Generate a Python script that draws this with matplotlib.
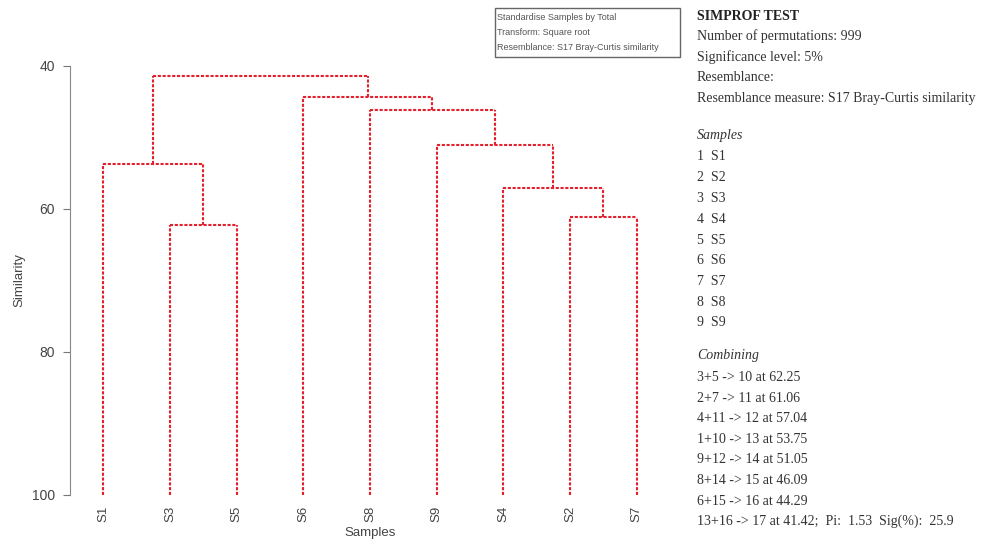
import matplotlib.pyplot as plt
import matplotlib.patches as patches

# leaf order along the x axis (sample numbers)
leaf_order = [1, 3, 5, 6, 8, 9, 4, 2, 7]
leaf_names = ["S1", "S3", "S5", "S6", "S8", "S9", "S4", "S2", "S7"]

# merges: child a, child b, new node, similarity
merge_a = [3, 2, 4, 1, 9, 8, 6, 13]
merge_b = [5, 7, 11, 10, 12, 14, 15, 16]
merge_node = [10, 11, 12, 13, 14, 15, 16, 17]
merge_sim = [62.25, 61.06, 57.04, 53.75, 51.05, 46.09, 44.29, 41.42]

sample_list = ["S1", "S2", "S3", "S4", "S5", "S6", "S7", "S8", "S9"]

fig = plt.figure(figsize=(9.84, 5.43), dpi=100)
ax = fig.add_axes([0.0711, 0.0884, 0.6098, 0.7901])

line_col = "#e3202c"
xpos = {}
ypos = {}
for i, s in enumerate(leaf_order):
    xpos[s] = i + 1
    ypos[s] = 100

for a, b, n, sim in zip(merge_a, merge_b, merge_node, merge_sim):
    for c in (a, b):
        ax.plot([xpos[c], xpos[c]], [ypos[c], sim], color=line_col,
                linestyle=(0, (1.5, 0.8)), linewidth=1.5)
    ax.plot([xpos[a], xpos[b]], [sim, sim], color=line_col,
            linestyle=(0, (1.5, 0.8)), linewidth=1.5)
    xpos[n] = (xpos[a] + xpos[b]) / 2
    ypos[n] = sim

ax.set_xlim(0.5, 9.5)
ax.set_ylim(100, 40)
ax.set_yticks([40, 60, 80, 100])
ax.set_xticks(range(1, 10))
ax.set_xticklabels(leaf_names, rotation=90, fontsize=9.5, color="#444444",
                   family="Liberation Sans")
ax.tick_params(axis="x", length=0, pad=8)
ax.tick_params(axis="y", length=5, color="#777777", labelsize=10,
               labelcolor="#444444", pad=6)
for lab in ax.get_yticklabels():
    lab.set_family("Liberation Sans")
for side in ["top", "right", "bottom"]:
    ax.spines[side].set_visible(False)
ax.spines["left"].set_color("#888888")
ax.set_ylabel("Similarity", fontsize=9.5, color="#444444", family="Liberation Sans")
ax.yaxis.set_label_coords(-0.075, 0.5)
ax.set_xlabel("Samples", fontsize=9.5, color="#444444", family="Liberation Sans",
              labelpad=3)

# settings box
box = patches.Rectangle((495 / 984, 1 - 57 / 543), 185 / 984, 49 / 543,
                        transform=fig.transFigure, fill=False,
                        edgecolor="#666666", linewidth=1.0)
fig.patches.append(box)
box_lines = ["Standardise Samples by Total", "Transform: Square root",
             "Resemblance: S17 Bray-Curtis similarity"]
for i, t in enumerate(box_lines):
    fig.text(497 / 984, 1 - (17 + i * 15.5) / 543, t, fontsize=6.5,
             color="#555555", family="Liberation Sans", va="center")

# SIMPROF text on the right
tx = 697 / 984
serif = "Liberation Serif"
tcol = "#333333"
fig.text(tx, 1 - 16 / 543, "SIMPROF TEST", fontsize=10, fontweight="bold",
         family=serif, color="#222222", va="center")
header = ["Number of permutations: 999", "Significance level: 5%",
          "Resemblance:", "Resemblance measure: S17 Bray-Curtis similarity"]
for i, t in enumerate(header):
    fig.text(tx, 1 - (36.5 + i * 20.6) / 543, t, fontsize=10, family=serif,
             color=tcol, va="center")

fig.text(tx, 1 - 135 / 543, "Samples", fontsize=10, family=serif,
         style="italic", color=tcol, va="center")
for i, s in enumerate(sample_list):
    fig.text(tx, 1 - (157 + i * 20.75) / 543, f"{i + 1}  {s}", fontsize=10,
             family=serif, color=tcol, va="center")

fig.text(tx, 1 - 356 / 543, "Combining", fontsize=10, family=serif,
         style="italic", color=tcol, va="center")
for i, (a, b, n, sim) in enumerate(zip(merge_a, merge_b, merge_node, merge_sim)):
    t = f"{a}+{b} -> {n} at {sim:.2f}"
    if i == len(merge_a) - 1:
        t += ";  Pi:  1.53  Sig(%):  25.9"
    fig.text(tx, 1 - (377.5 + i * 20.6) / 543, t, fontsize=10, family=serif,
             color=tcol, va="center")

fig.savefig("out.png", dpi=100)
